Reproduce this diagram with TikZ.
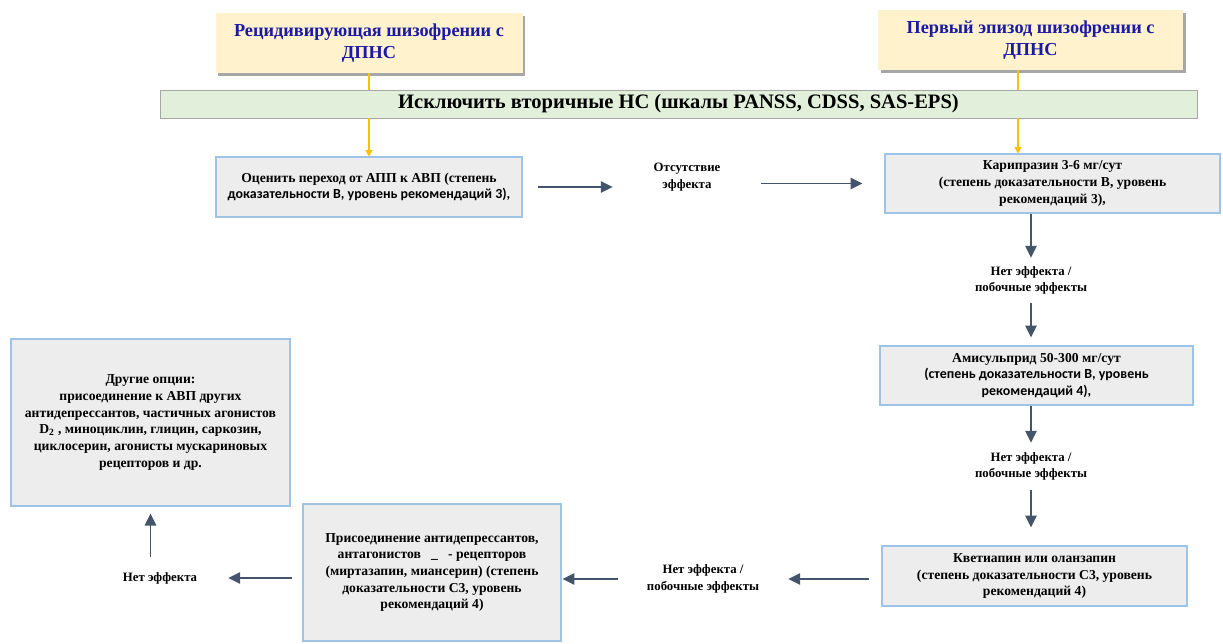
\documentclass[tikz,border=0pt]{standalone}
\usepackage{fontspec}
\setmainfont{Liberation Serif}
\newfontfamily\calib{Carlito}
\usetikzlibrary{arrows.meta,shadows}
\definecolor{hdrfill}{HTML}{FFF2CC}
\definecolor{hdrtext}{RGB}{26,26,165}
\definecolor{barfill}{HTML}{E2EFDA}
\definecolor{boxfill}{HTML}{EDEDED}
\definecolor{boxline}{HTML}{9DC3E6}
\definecolor{arrowcol}{HTML}{44546A}
\definecolor{gold}{HTML}{FFC000}
\newcommand{\sansbit}{\calib\fontsize{9.9}{11.9}\selectfont}
\tikzset{
    hdr/.style={fill=hdrfill, text=hdrtext, align=center, font=\fontsize{13}{15.8}\selectfont\bfseries,
        drop shadow={shadow xshift=2pt, shadow yshift=-2pt, fill=black, opacity=0.35}},
    stepbox/.style={draw=boxline, fill=boxfill, line width=0.75pt, align=center, font=\fontsize{9.7}{11.9}\selectfont\bfseries},
    note/.style={align=center, inner sep=0pt, font=\fontsize{9.1}{11.6}\selectfont\bfseries},
    flow/.style={arrowcol, line width=1.3pt, -{Triangle[length=8.5pt,width=8pt]}},
    feed/.style={gold, line width=0.8pt},
}
\begin{document}
\begin{tikzpicture}[x=0.025cm, y=-0.025cm]
    \useasboundingbox (0,0) rectangle (1223,644);
    % headers and common step
    \node[hdr, minimum width=307*0.025cm, minimum height=60*0.025cm] (relapse) at (369,43) {Рецидивирующая шизофрении с\\ДПНС};
    \node[hdr, minimum width=305*0.025cm, minimum height=60*0.025cm] (first) at (1030.5,40) {Первый эпизод шизофрении с\\ДПНС};
    \node[draw=gray!70, fill=barfill, minimum width=1037*0.025cm, minimum height=26*0.025cm,
        font=\fontsize{14.6}{16}\selectfont\bfseries] (exclude) at (678.5,104) {Исключить вторичные НС (шкалы PANSS, CDSS, SAS-EPS)};
    \coordinate (firstout) at (1018,70);
    % left branch
    \node[stepbox, minimum width=306*0.025cm, minimum height=60*0.025cm] (switch) at (369,187)
        {Оценить переход от АПП к АВП (степень\\{\sansbit доказательности В, уровень рекомендаций 3),}};
    \node[note, minimum width=148*0.025cm] (nofx) at (687,177) {Отсутствие\\эффекта};
    % right column
    \node[stepbox, minimum width=335*0.025cm, minimum height=59*0.025cm] (cari) at (1052.5,183.5)
        {Карипразин 3-6 мг/сут\\(степень доказательности В, уровень\\рекомендаций 3),};
    \node[note, minimum height=45*0.025cm] (fail1) at (1031,280.5) {Нет эффекта /\\побочные эффекты};
    \node[stepbox, minimum width=313*0.025cm, minimum height=59*0.025cm] (amis) at (1036.5,375.5)
        {Амисульприд 50-300 мг/сут\\{\sansbit (степень доказательности В, уровень}\\{\sansbit рекомендаций 4),}};
    \node[note, minimum height=47*0.025cm] (fail2) at (1031,466.5) {Нет эффекта /\\побочные эффекты};
    \node[stepbox, minimum width=305*0.025cm, minimum height=60*0.025cm] (quet) at (1034.5,576)
        {Кветиапин или оланзапин\\(степень доказательности С3, уровень\\рекомендаций 4)};
    % bottom row
    \node[note, minimum width=170*0.025cm] (fail3) at (703,579) {Нет эффекта /\\побочные эффекты};
    \node[stepbox, minimum width=258*0.025cm, minimum height=137*0.025cm] (addon) at (432,572.5)
        {Присоединение антидепрессантов,\\антагонистов\ \ \ \_\ \ \ - рецепторов\\(миртазапин, миансерин) (степень\\доказательности С3, уровень\\рекомендаций 4)};
    \node[note, minimum width=136*0.025cm, minimum height=42*0.025cm] (fail4) at (160,578) {Нет эффекта};
    \node[stepbox, minimum width=279*0.025cm, minimum height=167*0.025cm] (other) at (150.5,422.5)
        {Другие опции:\\присоединение к АВП других\\антидепрессантов, частичных агонистов\\D\textsubscript{2} , миноциклин, глицин, саркозин,\\циклосерин, агонисты мускариновых\\рецепторов и др.};
    % yellow feeds
    \draw[feed] (relapse.south) -- (relapse.south |- exclude.north);
    \draw[feed, -{Triangle[length=4.5pt,width=5pt]}] (relapse.south |- exclude.south) -- (switch.north);
    \draw[feed] (firstout) -- (firstout |- exclude.north);
    \draw[feed, -{Triangle[length=4.5pt,width=5pt]}] (firstout |- exclude.south) -- (firstout |- cari.north);
    % arrows
    \draw[flow, shorten <=10.7pt] (switch.east) -- (switch.east -| nofx.west);
    \draw[flow, shorten >=15.6pt] (cari.west -| nofx.east) -- (cari.west);
    \draw[flow] (cari.south -| fail1.north) -- (fail1.north);
    \draw[flow, shorten >=5.7pt] (fail1.south) -- (fail1.south |- amis.north);
    \draw[flow] (amis.south -| fail2.north) -- (fail2.north);
    \draw[flow, shorten >=12.8pt] (fail2.south) -- (fail2.south |- quet.north);
    \draw[flow, shorten <=9.2pt] (quet.west |- fail3.east) -- (fail3.east);
    \draw[flow, shorten >=0.7pt] (fail3.west) -- (fail3.west -| addon.east);
    \draw[flow, shorten <=7.8pt] (addon.west |- fail4.east) -- (fail4.east);
    \draw[flow, shorten >=5pt] (other.south |- fail4.north) -- (other.south);
\end{tikzpicture}
\end{document}
